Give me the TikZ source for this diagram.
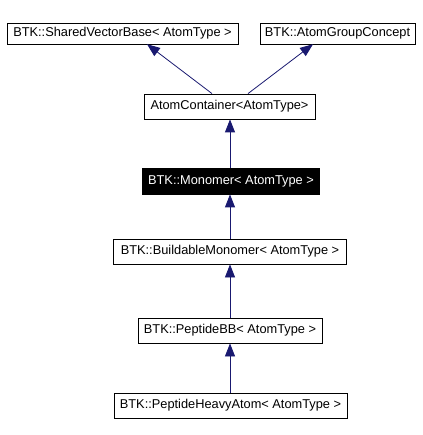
\documentclass[tikz,border=0pt]{standalone}
\usepackage{fontspec}
\setmainfont{Liberation Sans}
\usetikzlibrary{arrows.meta}
\definecolor{edgeblue}{RGB}{25,25,112}
\begin{document}
\begin{tikzpicture}[x=1pt,y=-1pt,
  cls/.style={draw=black,line width=0.8pt,fill=white,inner sep=0pt,font=\fontsize{12.8}{15}\selectfont},
  hil/.style={cls,fill=black,text=white},
  inh/.style={draw=edgeblue,line width=0.8pt,-{Triangle[length=13pt,width=10pt,fill=edgeblue]}}]
\useasboundingbox (0,0) rectangle (422,435);
\node[cls,minimum width=231pt,minimum height=21pt] (svb) at (122.5,33.5) {BTK::SharedVectorBase< AtomType >};
\node[cls,minimum width=155pt,minimum height=21pt] (agc) at (337.5,33.5) {BTK::AtomGroupConcept};
\node[cls,minimum width=171pt,minimum height=25pt] (ac) at (229.5,106.5) {AtomContainer<AtomType>};
\node[hil,minimum width=177pt,minimum height=26pt] (mon) at (231,181) {BTK::Monomer< AtomType >};
\node[cls,minimum width=233pt,minimum height=25pt] (bm) at (230,251.5) {BTK::BuildableMonomer< AtomType >};
\node[cls,minimum width=184pt,minimum height=25pt] (pbb) at (230,330.5) {BTK::PeptideBB< AtomType >};
\node[cls,minimum width=233pt,minimum height=25pt] (pha) at (230.5,405.5) {BTK::PeptideHeavyAtom< AtomType >};
\coordinate (svbtip) at (147,44.2);
\coordinate (agctip) at (313,44.2);
\draw[inh] ([xshift=-17.5pt]ac.north) -- (svbtip);
\draw[inh] ([xshift=18.5pt]ac.north) -- (agctip);
\draw[inh] ([xshift=0.5pt]ac.south |- mon.north) -- ([xshift=0.5pt]ac.south);
\draw[inh] (bm.north) -- (bm.north |- mon.south);
\draw[inh] (pbb.north) -- (bm.south);
\draw[inh] (pbb.north |- pha.north) -- (pbb.south);
\end{tikzpicture}
\end{document}
